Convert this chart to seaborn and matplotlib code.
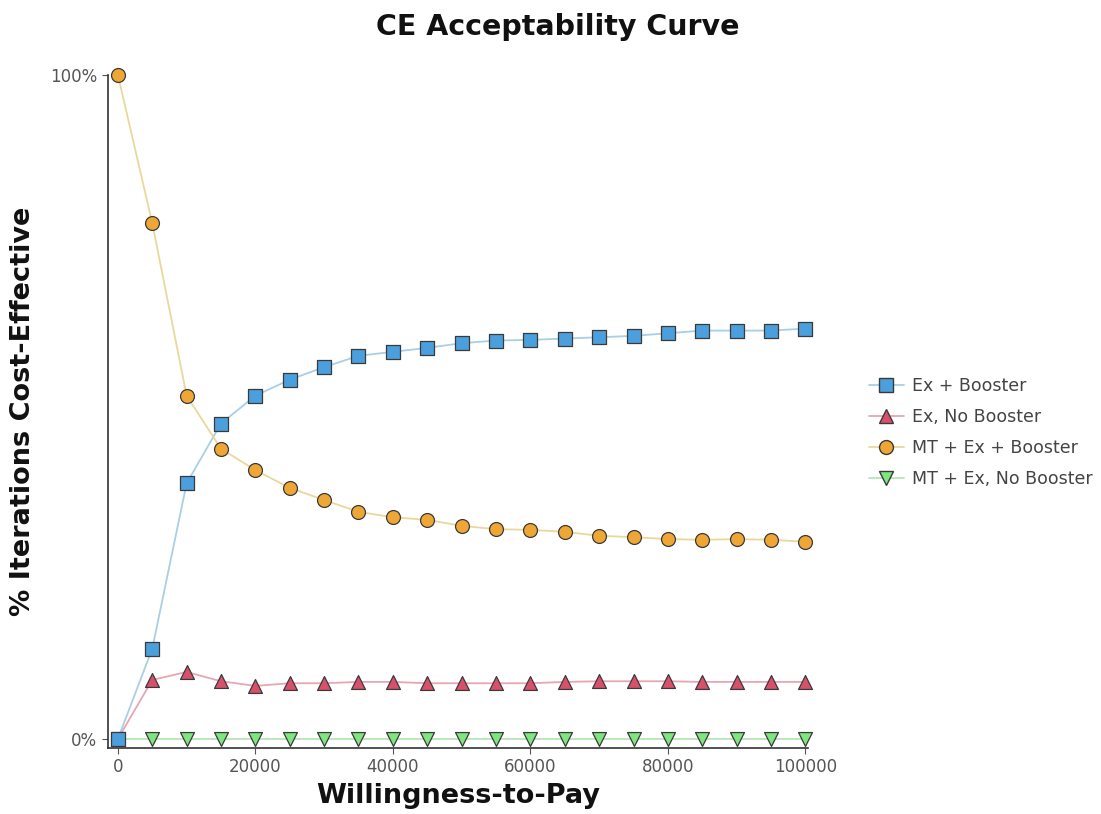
import numpy as np
import pandas as pd
import matplotlib
matplotlib.use("Agg")
import matplotlib.pyplot as plt
from matplotlib.lines import Line2D
from matplotlib.ticker import FuncFormatter
import seaborn as sns

wtp = [0, 5000, 10000, 15000, 20000, 25000, 30000, 35000, 40000, 45000, 50000,
       55000, 60000, 65000, 70000, 75000, 80000, 85000, 90000, 95000, 100000]

ex_booster = [0.0, 13.6, 38.5, 47.5, 51.7, 54.1, 56.0, 57.7, 58.3, 58.9, 59.6,
              60.0, 60.1, 60.3, 60.5, 60.7, 61.1, 61.5, 61.5, 61.5, 61.8]
ex_no_booster = [0.0, 8.9, 10.1, 8.7, 8.0, 8.4, 8.4, 8.6, 8.6, 8.4, 8.4,
                 8.4, 8.4, 8.6, 8.7, 8.7, 8.7, 8.6, 8.6, 8.6, 8.6]
mt_ex_booster = [100.0, 77.7, 51.7, 43.7, 40.5, 37.8, 36.0, 34.2, 33.4, 33.0, 32.1,
                 31.6, 31.5, 31.2, 30.6, 30.4, 30.1, 30.0, 30.1, 30.0, 29.7]
mt_ex_no_booster = [0.0] * 21

series_names = ["Ex + Booster", "Ex, No Booster", "MT + Ex + Booster", "MT + Ex, No Booster"]
series_vals = [ex_booster, ex_no_booster, mt_ex_booster, mt_ex_no_booster]
fill_colors = ["#4a9fdc", "#d9506a", "#eea735", "#7fe67f"]
line_colors = ["#a9cfe2", "#e7a6b4", "#e9d89c", "#b5e6b5"]
markers = ["s", "^", "o", "v"]

df = pd.DataFrame({
    "wtp": np.tile(wtp, 4),
    "pct": np.concatenate([np.array(v) / 100.0 for v in series_vals]),
    "series": np.repeat(series_names, len(wtp)),
})

sns.set_theme(style="white")
plt.rcParams["font.family"] = ["DejaVu Sans"]

fig = plt.figure(figsize=(11.01, 8.14), dpi=100)
ax = fig.add_axes([0.098, 0.081, 0.636, 0.827])

sns.lineplot(data=df, x="wtp", y="pct", hue="series", hue_order=series_names,
             palette=dict(zip(series_names, line_colors)), linewidth=1.3,
             legend=False, ax=ax, zorder=2)
draw_order = [3, 1, 2, 0]
for i in draw_order:
    name, fc, mk = series_names[i], fill_colors[i], markers[i]
    sub = df[df["series"] == name]
    sns.scatterplot(data=sub, x="wtp", y="pct", color=fc, marker=mk, s=100,
                    edgecolor="#3a3a3a", linewidth=0.9, legend=False, ax=ax,
                    zorder=3, clip_on=False)

ax.set_xlim(-1450, 100400)
ax.set_ylim(-0.0136, 1.0)
ax.set_xticks([0, 20000, 40000, 60000, 80000, 100000])
ax.set_yticks([0.0, 1.0])
ax.yaxis.set_major_formatter(FuncFormatter(lambda v, p: f"{int(round(v*100))}%"))
ax.tick_params(axis="both", labelsize=12, colors="#555555", length=4, width=0.8,
               direction="out", bottom=True, left=True)
for lbl in ax.get_xticklabels() + ax.get_yticklabels():
    lbl.set_color("#555555")

for s in ["top", "right"]:
    ax.spines[s].set_visible(False)
for s in ["left", "bottom"]:
    ax.spines[s].set_color("#333333")
    ax.spines[s].set_linewidth(1.2)
ax.grid(False)

ax.set_xlabel("Willingness-to-Pay", fontsize=19.5, fontweight="bold", color="#111111", labelpad=5)
ax.set_ylabel("% Iterations Cost-Effective", fontsize=19.5, fontweight="bold", color="#111111", labelpad=10)
fig.text(0.507, 0.967, "CE Acceptability Curve", ha="center", va="center",
         fontsize=20.5, fontweight="bold", color="#111111")

handles = [Line2D([0], [0], color=lc, marker=mk, markerfacecolor=fc,
                  markeredgecolor="#3a3a3a", markersize=10, linewidth=1.3)
           for lc, fc, mk in zip(line_colors, fill_colors, markers)]
leg = fig.legend(handles, series_names, loc="center left", bbox_to_anchor=(0.775, 0.469),
                 frameon=False, fontsize=12.5, labelspacing=0.75, handlelength=2.0,
                 handletextpad=0.5)
for t in leg.get_texts():
    t.set_color("#444444")

fig.savefig("out.png", dpi=100)
